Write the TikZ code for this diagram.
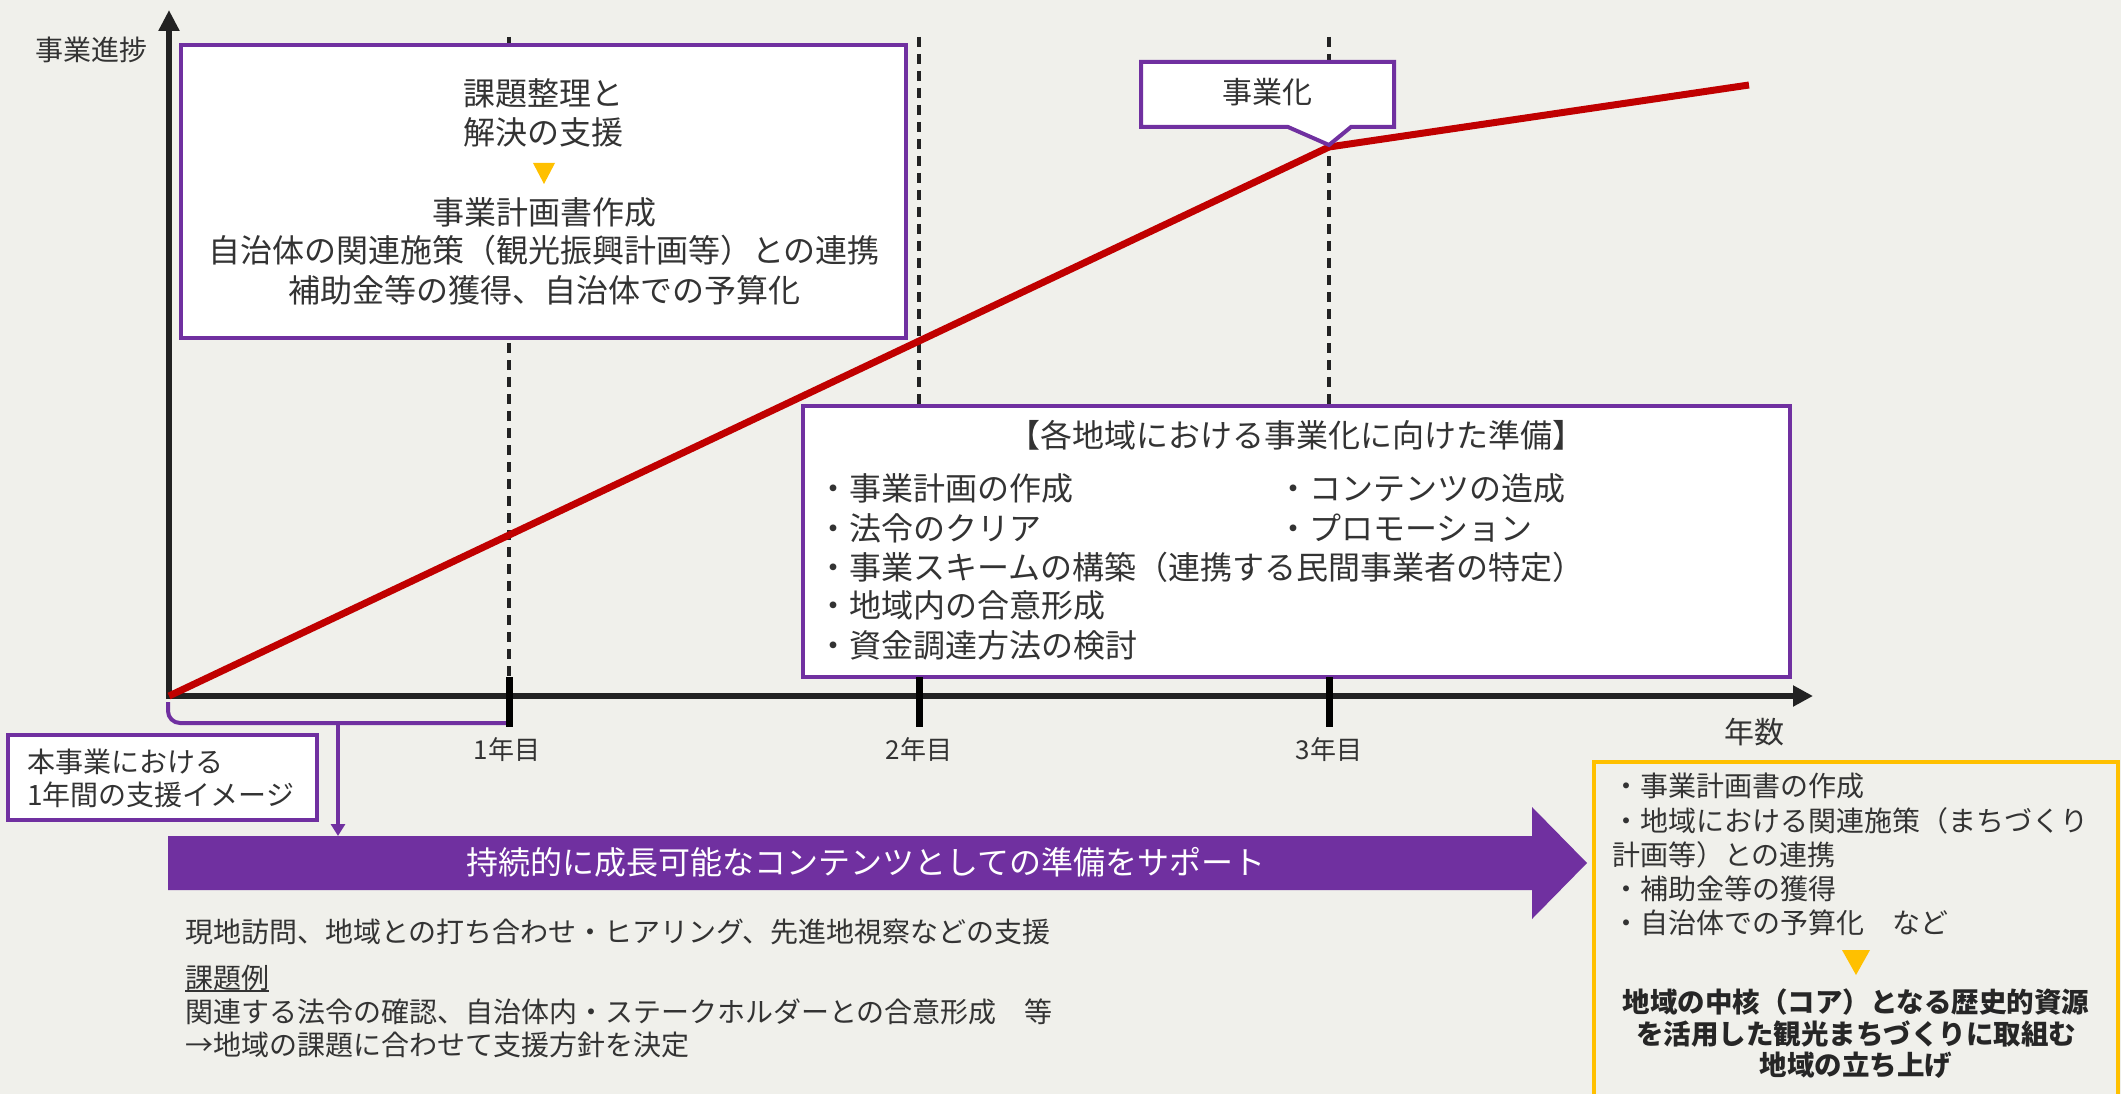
\documentclass[tikz,border=0pt]{standalone}
\usepackage{fontspec}
\setmainfont{Noto Sans CJK JP}
\usetikzlibrary{arrows.meta}
\definecolor{bg}{RGB}{240,240,235}
\definecolor{pur}{RGB}{112,48,160}
\definecolor{redl}{RGB}{192,0,0}
\definecolor{yel}{RGB}{255,192,0}
\definecolor{txt}{RGB}{51,51,51}
\definecolor{txtd}{RGB}{38,38,38}
\definecolor{axisc}{RGB}{34,34,34}
\tikzset{
  lbl/.style={inner sep=0pt, text=txt},
  fa/.style={font=\fontsize{26}{31}\selectfont},
  fb/.style={font=\fontsize{28}{34}\selectfont},
  fc/.style={font=\fontsize{30}{36}\selectfont},
  fd/.style={font=\fontsize{32}{38}\selectfont},
  fbold/.style={font=\fontsize{27.5}{33}\selectfont\bfseries, text=txtd},
  pbox/.style={draw=pur, line width=4pt, fill=white, inner sep=0pt},
  vdash/.style={draw=axisc, line width=3.5pt, dash pattern=on 10pt off 7pt},
  axisline/.style={draw=axisc, line width=6pt},
  tickmark/.style={draw=black, line width=7pt},
  growth/.style={draw=redl, line width=7pt, line join=round},
  ytri/.style={fill=yel},
}
\begin{document}
\begin{tikzpicture}[x=1pt,y=-1pt]
\fill[bg] (0,0) rectangle (2121,1094);
\useasboundingbox (0,0) rectangle (2121,1094);

% dashed year lines
\draw[vdash] (509,37) -- (509,676);
\draw[vdash] (919,37) -- (919,676);
\draw[vdash] (1329,37) -- (1329,676);

% box 1
\node[pbox, minimum width=725pt, minimum height=293pt] (box1) at (543.5,191.5) {};
\node[lbl, fd] (b1a) at (543,93) {課題整理と};
\node[lbl, fd] (b1b) at (543,132) {解決の支援};
\fill[ytri] (533,163) -- (555,163) -- (544,184) -- cycle;
\node[lbl, fd] (b1c) at (544,212) {事業計画書作成};
\node[lbl, fd] (b1d) at (544,250) {自治体の関連施策（観光振興計画等）との連携};
\node[lbl, fd] (b1e) at (544,290) {補助金等の獲得、自治体での予算化};

% box prep
\node[pbox, minimum width=987pt, minimum height=271pt] (box2) at (1296.5,541.5) {};
\node[lbl, fd] (b2t) at (1296,435) {【各地域における事業化に向けた準備】};
\node[lbl, fd, anchor=west] (b2a) at (817,488) {・事業計画の作成};
\node[lbl, fd, anchor=west] (b2b) at (817,528) {・法令のクリア};
\node[lbl, fd, anchor=west] (b2c) at (817,567) {・事業スキームの構築（連携する民間事業者の特定）};
\node[lbl, fd, anchor=west] (b2d) at (817,605) {・地域内の合意形成};
\node[lbl, fd, anchor=west] (b2e) at (817,645) {・資金調達方法の検討};
\node[lbl, fd, anchor=west] (b2f) at (1277,488) {・コンテンツの造成};
\node[lbl, fd, anchor=west] (b2g) at (1277,528) {・プロモーション};

% axes
\coordinate (origin) at (169,696);
\coordinate (ytop) at (169,10);
\coordinate (xend) at (1813,696);
\draw[axisline, -{Triangle[length=21pt,width=20pt]}] (169,699) -- (ytop);
\draw[axisline, -{Triangle[length=20pt,width=20pt]}] (166,696) -- (xend);
\node[lbl, fb] (ylab) at (91,50) {事業進捗};
\node[lbl, fc] (xlab) at (1754,732) {年数};

% bracket and arrow to big arrow
\coordinate (brk) at (338,723);
\coordinate (bigtop) at (338,836);
\draw[pur, line width=4pt, rounded corners=12pt] (168,702) -- (168,723) -- (509,723);
\draw[pur, line width=4pt, -{Triangle[length=12pt,width=14pt]}] (brk) -- (bigtop);

% ticks
\draw[tickmark] (509,677) -- (509,727);
\draw[tickmark] (919,677) -- (919,727);
\draw[tickmark] (1329,677) -- (1329,727);
\node[lbl, fa] (t1) at (507,750) {1年目};
\node[lbl, fa] (t2) at (919,750) {2年目};
\node[lbl, fa] (t3) at (1329,750) {3年目};

% growth line
\coordinate (p1) at (1329,147);
\coordinate (p2) at (1749,85);
\draw[growth] (origin) -- (p1) -- (p2);

% callout
\draw[pur, line width=4pt, fill=white, line join=miter] (1141,62) -- (1394,62) -- (1394,127) -- (1351,127) -- (1329,145) -- (1288,127) -- (1141,127) -- cycle;
\node[lbl, fc] (jg) at (1267,92) {事業化};

% small label box
\node[pbox, minimum width=309pt, minimum height=85pt] (box3) at (162.5,777.5) {};
\node[lbl, fb, anchor=west] (b3a) at (27,762) {本事業における};
\node[lbl, fb, anchor=west] (b3b) at (27,795) {1年間の支援イメージ};

% big arrow
\fill[pur] (168,836) -- (1532,836) -- (1532,807) -- (1587,863) -- (1532,919) -- (1532,890) -- (168,890) -- cycle;
\node[inner sep=0pt, text=white, fd] (bigtxt) at (866,862) {持続的に成長可能なコンテンツとしての準備をサポート};

% lower text
\node[lbl, fb, anchor=west] (l1) at (185,932) {現地訪問、地域との打ち合わせ・ヒアリング、先進地視察などの支援};
\node[lbl, fb, anchor=west] (l2) at (185,978) {課題例};
\draw[txt, line width=2pt] (l2.south west) -- (l2.south east);
\node[lbl, fb, anchor=west] (l3) at (185,1012) {関連する法令の確認、自治体内・ステークホルダーとの合意形成　等};
\node[lbl, fb, anchor=west] (l4) at (185,1045) {→地域の課題に合わせて支援方針を決定};

% yellow box
\draw[yel, line width=4pt] (1594,762) rectangle (2118,1110);
\node[lbl, fb, anchor=west] (y1) at (1612,786) {・事業計画書の作成};
\node[lbl, fb, anchor=west] (y2) at (1612,821) {・地域における関連施策（まちづくり};
\node[lbl, fb, anchor=west] (y3) at (1612,855) {計画等）との連携};
\node[lbl, fb, anchor=west] (y4) at (1612,889) {・補助金等の獲得};
\node[lbl, fb, anchor=west] (y5) at (1612,923) {・自治体での予算化　など};
\fill[ytri] (1842,950) -- (1870,950) -- (1856,975) -- cycle;
\node[lbl, fbold] (yb1) at (1856,1002) {地域の中核（コア）となる歴史的資源};
\node[lbl, fbold] (yb2) at (1856,1034) {を活用した観光まちづくりに取組む};
\node[lbl, fbold] (yb3) at (1856,1065) {地域の立ち上げ};
\end{tikzpicture}
\end{document}
